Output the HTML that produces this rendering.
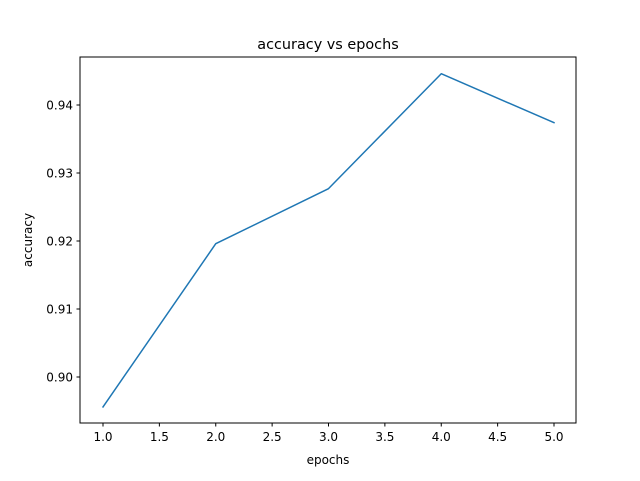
<!DOCTYPE html>
<html><head><meta charset="utf-8"><style>
body{margin:0;background:#fff;}
svg text{font-family:"DejaVu Sans","Liberation Sans",sans-serif;fill:#000;}
</style></head><body>
<svg id="chart" width="640" height="476" viewBox="0 0 640 476">
<rect x="0" y="0" width="640" height="476" fill="#fff"/>
<text x="328" y="49" font-size="14.4" text-anchor="middle">accuracy vs epochs</text>
<text x="328" y="464" font-size="12" text-anchor="middle">epochs</text>
<text transform="translate(32,240) rotate(-90)" font-size="12" text-anchor="middle">accuracy</text>
<g id="ticks"></g>
<g id="series"></g>
<rect x="80" y="57" width="496" height="366" fill="none" stroke="#000" stroke-width="1"/>
</svg>
<script>
const epochs=[1,2,3,4,5];
const accuracy=[0.8956,0.9196,0.9277,0.9446,0.9374];
const xTicks=[1.0,1.5,2.0,2.5,3.0,3.5,4.0,4.5,5.0];
const yTicks=[0.90,0.91,0.92,0.93,0.94];
function xs(v){return 103+(v-1)*112.75;}
function ys(v){return 377-(v-0.90)*6800;}
const NS="http://www.w3.org/2000/svg";
const tg=document.getElementById('ticks');
function mk(tag,attrs,parent){const e=document.createElementNS(NS,tag);for(const k in attrs)e.setAttribute(k,attrs[k]);parent.appendChild(e);return e;}
xTicks.forEach(t=>{
 const x=xs(t);
 const l=mk('line',{x1:x,x2:x,y1:423,y2:426.5,stroke:'#000'},tg);
 
 
 const tx=mk('text',{x:x,y:441,'font-size':'12','text-anchor':'middle'},tg);
 tx.textContent=t.toFixed(1);
 
 
});
yTicks.forEach(t=>{
 const y=ys(t);
 const l=mk('line',{x1:76.5,x2:80,y1:y,y2:y,stroke:'#000'},tg);
 
 
 const tx=mk('text',{x:73,y:y+4.5,'font-size':'12','text-anchor':'end'},tg);
 tx.textContent=t.toFixed(2);
 
 
});
const pts=epochs.map((e,i)=>xs(e)+','+ys(accuracy[i])).join(' ');
const pl=mk('polyline',{points:pts,fill:'none',stroke:'#1f77b4','stroke-width':'1.5','stroke-linejoin':'round','stroke-linecap':'square'},document.getElementById('series'));


</script>
</body></html>
